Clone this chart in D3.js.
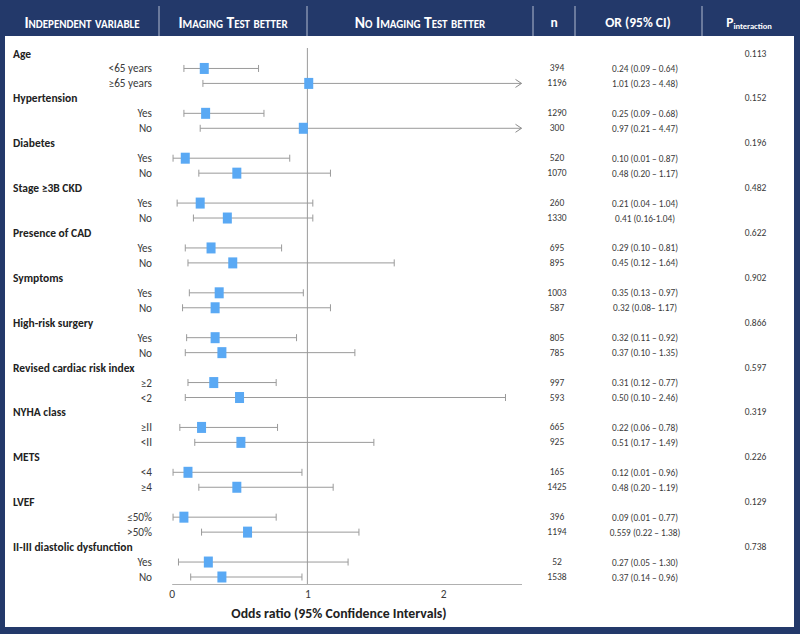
<!DOCTYPE html>
<html>
<head>
<meta charset="utf-8">
<script src="https://cdn.jsdelivr.net/npm/d3@7/dist/d3.min.js"></script>
<style>
  html, body { margin: 0; padding: 0; background: #fff; }
  svg { display: block; font-family: Carlito, Lato, "Open Sans", sans-serif; }
</style>
</head>
<body>
<svg id="chart" width="800" height="634"></svg>
<script>
// ---------------- DATA ----------------
const groups = ["Age", "Hypertension", "Diabetes", "Stage \u22653B CKD", "Presence of CAD", "Symptoms",
  "High-risk surgery", "Revised cardiac risk index", "NYHA class", "METS", "LVEF", "II-III diastolic dysfunction"];
const pInteraction = ["0.113", "0.152", "0.196", "0.482", "0.622", "0.902", "0.866", "0.597", "0.319", "0.226", "0.129", "0.738"];
const subgroups = ["<65 years", "\u226565 years", "Yes", "No", "Yes", "No", "Yes", "No", "Yes", "No", "Yes", "No",
  "Yes", "No", "\u22652", "<2", "\u2265II", "<II", "<4", "\u22654", "\u226450%", ">50%", "Yes", "No"];
const nValues = [394, 1196, 1290, 300, 520, 1070, 260, 1330, 695, 895, 1003, 587, 805, 785, 997, 593, 665, 925, 165, 1425, 396, 1194, 52, 1538];
const orValues = [0.24, 1.01, 0.25, 0.97, 0.10, 0.48, 0.21, 0.41, 0.29, 0.45, 0.35, 0.32, 0.32, 0.37, 0.31, 0.50, 0.22, 0.51, 0.12, 0.48, 0.09, 0.559, 0.27, 0.37];
const ciLow = [0.09, 0.23, 0.09, 0.21, 0.01, 0.20, 0.04, 0.16, 0.10, 0.12, 0.13, 0.08, 0.11, 0.10, 0.12, 0.10, 0.06, 0.17, 0.01, 0.20, 0.01, 0.22, 0.05, 0.14];
const ciHigh = [0.64, 4.48, 0.68, 4.47, 0.87, 1.17, 1.04, 1.04, 0.81, 1.64, 0.97, 1.17, 0.92, 1.35, 0.77, 2.46, 0.78, 1.49, 0.96, 1.19, 0.77, 1.38, 1.30, 0.96];
const orLabels = ["0.24 (0.09 \u2013 0.64)", "1.01 (0.23 \u2013 4.48)", "0.25 (0.09 \u2013 0.68)", "0.97 (0.21 \u2013 4.47)",
  "0.10 (0.01 \u2013 0.87)", "0.48 (0.20 \u2013 1.17)", "0.21 (0.04 \u2013 1.04)", "0.41 (0.16-1.04)",
  "0.29 (0.10 \u2013 0.81)", "0.45 (0.12 \u2013 1.64)", "0.35 (0.13 \u2013 0.97)", "0.32 (0.08\u2013 1.17)",
  "0.32 (0.11 \u2013 0.92)", "0.37 (0.10 \u2013 1.35)", "0.31 (0.12 \u2013 0.77)", "0.50 (0.10 \u2013 2.46)",
  "0.22 (0.06 \u2013 0.78)", "0.51 (0.17 \u2013 1.49)", "0.12 (0.01 \u2013 0.96)", "0.48 (0.20 \u2013 1.19)",
  "0.09 (0.01 \u2013 0.77)", "0.559 (0.22 \u2013 1.38)", "0.27 (0.05 \u2013 1.30)", "0.37 (0.14 \u2013 0.96)"];
const xTicks = [0, 1, 2];
const headers = ["Independent variable", "Imaging Test better", "No Imaging Test better", "n", "OR (95% CI)"];
const axisTitle = "Odds ratio (95% Confidence Intervals)";

// ---------------- BUILD ROWS ----------------
const rows = [];
groups.forEach((g, gi) => {
  rows.push({ type: "group", label: g, p: pInteraction[gi] });
  for (let k = 0; k < 2; k++) {
    const i = gi * 2 + k;
    rows.push({ type: "sub", label: subgroups[i], n: nValues[i], or: orValues[i], lo: ciLow[i], hi: ciHigh[i], orLabel: orLabels[i] });
  }
});
rows.forEach((r, i) => r.id = i);

// ---------------- LAYOUT ----------------
const W = 800, H = 634;
const navy = "#23396a";
const txt = "#3a3a3a";
const svg = d3.select("#chart");

const x = d3.scaleLinear().domain([0, 2.578]).range([171.7, 521.5]);
const y = d3.scalePoint().domain(rows.map(r => r.id)).range([53.5, 577]);

// frame
svg.append("rect").attr("x", 0).attr("y", 0).attr("width", W).attr("height", H).attr("fill", navy);
svg.append("rect").attr("x", 5).attr("y", 36).attr("width", 789).attr("height", 591).attr("fill", "#fff");

// header separators
const seps = [159, 307, 533, 575, 702];
svg.selectAll("line.sep").data(seps).enter().append("line")
  .attr("x1", d => d).attr("x2", d => d).attr("y1", 6).attr("y2", 36)
  .attr("stroke", "#9aa6bf").attr("stroke-width", 1.2);

// header texts
const headerCenters = [82, 233, 420, 554, 638];
svg.selectAll("text.hdr").data(headers).enter().append("text")
  .attr("x", (d, i) => headerCenters[i]).attr("y", 22)
  .attr("text-anchor", "middle").attr("dominant-baseline", "central")
  .attr("fill", "#fff").attr("font-weight", "bold")
  .attr("font-size", (d, i) => i < 3 ? 15.6 : 13.5)
  .style("font-variant", (d, i) => i < 3 ? "small-caps" : "normal")
  .text(d => d);
const pHdr = svg.append("text").attr("x", 749).attr("y", 26.5).attr("text-anchor", "middle")
  .attr("fill", "#fff").attr("font-weight", "bold");
pHdr.append("tspan").attr("font-size", 13.5).text("P");
pHdr.append("tspan").attr("font-size", 8.5).attr("dy", 2).text("interaction");

// reference line at OR = 1
svg.append("line").attr("x1", x(1)).attr("x2", x(1)).attr("y1", 48).attr("y2", 584)
  .attr("stroke", "#9a9a9a").attr("stroke-width", 1);

// x axis
const xAxis = d3.axisBottom(x).tickValues(xTicks).tickSize(0).tickPadding(6).tickFormat(d3.format("d"));
const gAx = svg.append("g").attr("transform", "translate(0,584)").call(xAxis);
gAx.select(".domain").attr("stroke", "#b0b0b0").attr("stroke-width", 1.2);
gAx.selectAll("text").attr("font-size", 11.5).attr("fill", txt)
  .attr("font-family", "Carlito, Lato, 'Open Sans', sans-serif");

svg.append("text").attr("x", 339).attr("y", 617.5).attr("text-anchor", "middle")
  .attr("font-size", 13.8).attr("font-weight", "bold").attr("fill", "#222").text(axisTitle);

// group labels
const groupRows = rows.filter(r => r.type === "group");
const subRows = rows.filter(r => r.type === "sub");

svg.selectAll("text.grp").data(groupRows).enter().append("text")
  .attr("x", 13).attr("y", d => y(d.id)).attr("dominant-baseline", "central")
  .attr("font-size", 11.5).attr("font-weight", "bold").attr("fill", "#222").text(d => d.label);

svg.selectAll("text.pint").data(groupRows).enter().append("text")
  .attr("x", 755.5).attr("y", d => y(d.id)).attr("dominant-baseline", "central").attr("text-anchor", "middle")
  .attr("font-size", 9.5).attr("fill", txt).text(d => d.p);

// subgroup labels
svg.selectAll("text.sub").data(subRows).enter().append("text")
  .attr("x", 152).attr("y", d => y(d.id)).attr("dominant-baseline", "central").attr("text-anchor", "end")
  .attr("font-size", 11.2).attr("fill", txt).text(d => d.label);

svg.selectAll("text.n").data(subRows).enter().append("text")
  .attr("x", 557).attr("y", d => y(d.id)).attr("dominant-baseline", "central").attr("text-anchor", "middle")
  .attr("font-size", 9.5).attr("fill", txt).text(d => d.n);

svg.selectAll("text.or").data(subRows).enter().append("text")
  .attr("x", 645).attr("y", d => y(d.id)).attr("dominant-baseline", "central").attr("text-anchor", "middle")
  .attr("font-size", 9.3).attr("fill", txt).text(d => d.orLabel);

// CI lines
const xMax = x.domain()[1];
const ci = svg.append("g").selectAll("g").data(subRows).enter().append("g");
ci.append("line")
  .attr("x1", d => x(d.lo)).attr("x2", d => x(Math.min(d.hi, xMax)))
  .attr("y1", d => y(d.id)).attr("y2", d => y(d.id))
  .attr("stroke", "#9a9a9a").attr("stroke-width", 1);
ci.append("line")
  .attr("x1", d => x(d.lo)).attr("x2", d => x(d.lo))
  .attr("y1", d => y(d.id) - 3.5).attr("y2", d => y(d.id) + 3.5)
  .attr("stroke", "#9a9a9a").attr("stroke-width", 1);
ci.filter(d => d.hi <= xMax).append("line")
  .attr("x1", d => x(d.hi)).attr("x2", d => x(d.hi))
  .attr("y1", d => y(d.id) - 3.5).attr("y2", d => y(d.id) + 3.5)
  .attr("stroke", "#9a9a9a").attr("stroke-width", 1);
ci.filter(d => d.hi > xMax).append("path")
  .attr("d", d => { const xe = x(xMax), yy = y(d.id); return `M${xe - 6},${yy - 4}L${xe},${yy}L${xe - 6},${yy + 4}`; })
  .attr("fill", "none").attr("stroke", "#8a8a8a").attr("stroke-width", 1);

// point estimates
svg.selectAll("rect.pt").data(subRows).enter().append("rect")
  .attr("x", d => x(d.or) - 4.5).attr("y", d => y(d.id) - 5.5)
  .attr("width", 9).attr("height", 11).attr("fill", "#5aa9f4");
</script>
</body>
</html>
